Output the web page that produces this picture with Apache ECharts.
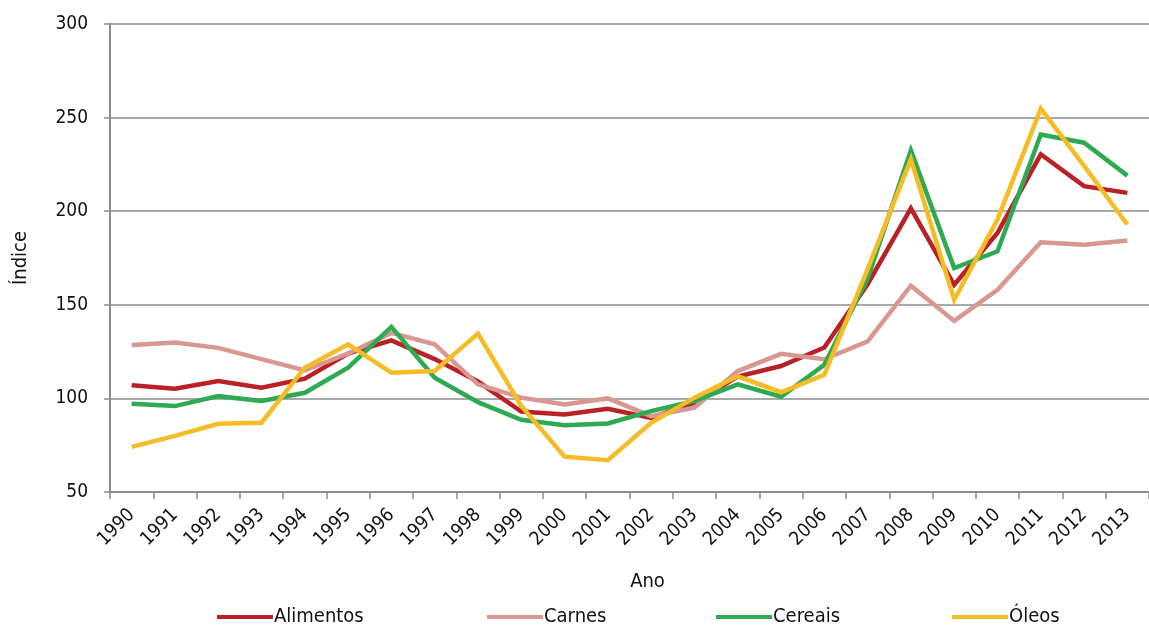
<!DOCTYPE html>
<html>
<head>
<meta charset="utf-8">
<script src="https://cdn.jsdelivr.net/npm/echarts@6/dist/echarts.min.js"></script>
<style>
html,body{margin:0;padding:0;background:#fff;}
#chart{width:1149px;height:626px;}
</style>
</head>
<body>
<div id="chart"></div>
<script>
const years = ['1990','1991','1992','1993','1994','1995','1996','1997','1998','1999','2000','2001','2002','2003','2004','2005','2006','2007','2008','2009','2010','2011','2012','2013'];
const alimentos = [107, 105.2, 109.3, 105.7, 110.5, 124, 131, 121, 109, 93, 91.4, 94.5, 89.6, 97.7, 111.6, 117.3, 127.2, 161, 201.5, 160.7, 188.4, 230.4, 213.4, 209.8];
const carnes = [128.5, 129.8, 127, 121, 115, 124, 135, 128.9, 107.5, 100.4, 96.8, 100, 90.5, 95, 114.6, 123.8, 120.9, 130.5, 160.2, 141.4, 158, 183.4, 182.1, 184.3];
const cereais = [97.2, 95.9, 101.2, 98.6, 103, 116.4, 138.2, 111, 98, 88.6, 85.7, 86.6, 93.2, 98.6, 107.5, 100.9, 118, 164, 232.5, 169.6, 178.6, 241, 236.6, 219];
const oleos = [74.1, 80, 86.4, 87, 116.4, 128.9, 113.7, 114.6, 134.6, 96, 68.9, 67, 87, 100.4, 111.8, 103.3, 112.6, 169, 227.7, 152.7, 195.5, 254.8, 224.2, 192.9];
const seriesNames = ['Alimentos','Carnes','Cereais','Óleos'];
const colors = ['#BA2126','#D99792','#2EAA52','#F6BC26'];
const yTicks = {min: 50, max: 300, interval: 50};

const dataSets = [alimentos, carnes, cereais, oleos];
const legendLefts = [217, 487, 716, 952];
const font = "'DejaVu Sans Condensed', 'DejaVu Sans', sans-serif";

const chart = echarts.init(document.getElementById('chart'));
chart.setOption({
  animation: false,
  backgroundColor: '#ffffff',
  textStyle: {fontFamily: font},
  grid: {left: 110, right: -11, top: 24, bottom: 134, containLabel: false},
  legend: seriesNames.map((n, i) => ({
    data: [n],
    left: legendLefts[i],
    top: 607,
    padding: 0,
    icon: 'rect',
    itemWidth: 56,
    itemHeight: 4,
    itemGap: 4,
    textStyle: {fontFamily: font, fontSize: 20, color: '#111', padding: [0,0,0,-4]}
  })),
  xAxis: {
    type: 'category',
    data: years,
    boundaryGap: true,
    name: 'Ano',
    nameLocation: 'middle',
    nameGap: 80,
    nameTextStyle: {fontFamily: font, fontSize: 20, color: '#111', padding: [0,0,0,36]},
    axisLine: {lineStyle: {color: '#8C8C8C', width: 2}},
    axisTick: {show: true, length: 7, alignWithLabel: false, lineStyle: {color: '#8C8C8C', width: 1.5}},
    axisLabel: {rotate: 45, fontFamily: font, fontSize: 19, color: '#111', margin: 20, interval: 0},
    splitLine: {show: false}
  },
  yAxis: {
    type: 'value',
    min: yTicks.min, max: yTicks.max, interval: yTicks.interval,
    name: 'Índice',
    nameLocation: 'middle',
    nameGap: 79,
    nameRotate: 90,
    nameTextStyle: {fontFamily: font, fontSize: 20, color: '#111'},
    axisLine: {show: true, lineStyle: {color: '#8C8C8C', width: 2}},
    axisTick: {show: true, length: 6, lineStyle: {color: '#8C8C8C', width: 1.5}},
    axisLabel: {fontFamily: font, fontSize: 19, color: '#111', margin: 22},
    splitLine: {show: true, lineStyle: {color: '#8C8C8C', width: 1.5}}
  },
  series: seriesNames.map((n, i) => ({
    name: n,
    type: 'line',
    data: dataSets[i],
    symbol: 'none',
    smooth: false,
    color: colors[i],
    lineStyle: {width: 4.5, color: colors[i], join: 'miter'},
    z: 2 + i
  }))
});
</script>
</body>
</html>
